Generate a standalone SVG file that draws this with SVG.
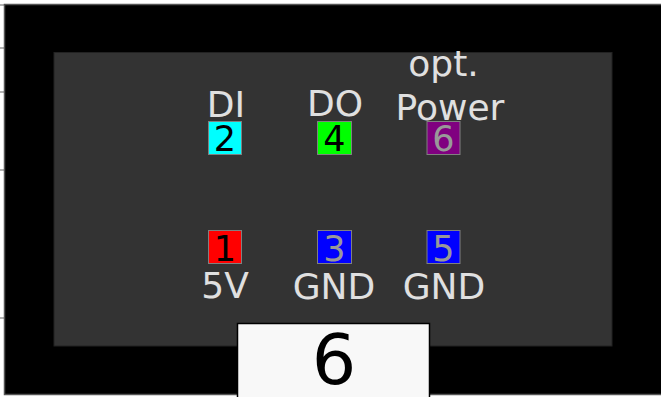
<svg xmlns="http://www.w3.org/2000/svg" width="661" height="397" viewBox="0 0 661 397">
<style>
.lbl{font-family:"DejaVu Sans",sans-serif;font-size:36px;fill:#e0e0e0;text-anchor:middle}
.num{font-family:"DejaVu Sans",sans-serif;font-size:35px;text-anchor:middle}
.pin{stroke:#808080;stroke-width:1}
.tick{stroke:#999;stroke-width:1.5}
</style>
<rect x="0" y="0" width="661" height="397" fill="#ffffff"/>
<g id="ticks">
<line class="tick" x1="0" y1="5" x2="5" y2="5"/>
<line class="tick" x1="0" y1="48" x2="5" y2="48"/>
<line class="tick" x1="0" y1="92" x2="5" y2="92"/>
<line class="tick" x1="0" y1="170" x2="5" y2="170"/>
<line class="tick" x1="0" y1="318" x2="5" y2="318"/>
</g>
<g id="board">
<rect x="4.5" y="4.5" width="660" height="390" fill="#000" stroke="#555" stroke-width="1.5"/>
<rect x="54" y="52.5" width="558" height="293.5" fill="#333" stroke="#222" stroke-width="1"/>
</g>
<g id="pin2">
<rect class="pin" x="208.5" y="121.5" width="33" height="33" fill="#00ffff"/>
<text class="num" x="225" y="151" fill="#000">2</text>
<text class="lbl" x="226" y="117">DI</text>
</g>
<g id="pin4">
<rect class="pin" x="317.5" y="121.5" width="34" height="33" fill="#00ff00"/>
<text class="num" x="334.5" y="151" fill="#000">4</text>
<text class="lbl" x="335" y="116">DO</text>
</g>
<g id="pin6">
<rect class="pin" x="427" y="121.5" width="33" height="33" fill="#800080"/>
<text class="num" x="443.5" y="151" fill="#999">6</text>
<text class="lbl" x="443.5" y="76">opt.</text>
<text class="lbl" x="450" y="120">Power</text>
</g>
<g id="pin1">
<rect class="pin" x="208.5" y="230.5" width="33" height="33" fill="#ff0000"/>
<text class="num" x="225" y="261" fill="#000">1</text>
<text class="lbl" x="225" y="298">5V</text>
</g>
<g id="pin3">
<rect class="pin" x="317.5" y="230.5" width="34" height="33" fill="#0000ff"/>
<text class="num" x="334.5" y="261" fill="#999">3</text>
<text class="lbl" x="334" y="299">GND</text>
</g>
<g id="pin5">
<rect class="pin" x="427" y="230.5" width="33" height="33" fill="#0000ff"/>
<text class="num" x="443.5" y="261" fill="#999">5</text>
<text class="lbl" x="444" y="299">GND</text>
</g>
<g id="count">
<rect x="237.5" y="323.5" width="192" height="76" fill="#f8f8f8" stroke="#000" stroke-width="1.5"/>
<text x="334" y="384" font-family="DejaVu Sans,sans-serif" font-size="70" text-anchor="middle" fill="#000">6</text>
</g>
<g id="connectors"/>
</svg>
